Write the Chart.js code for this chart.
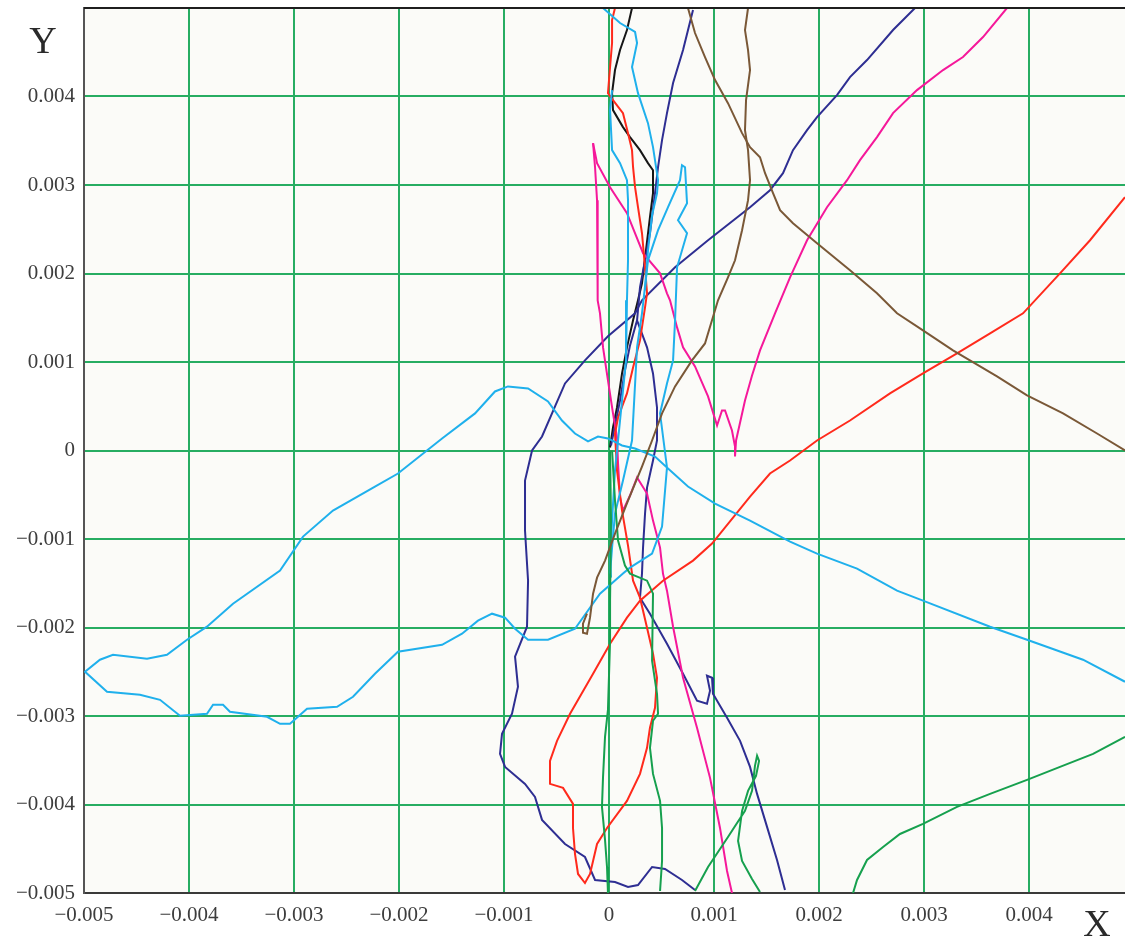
<!DOCTYPE html>
<html>
<head>
<meta charset="utf-8">
<script src="https://cdn.jsdelivr.net/npm/chart.js@4.4.1/dist/chart.umd.min.js"></script>
<style>
  html, body { margin: 0; padding: 0; background: #ffffff; }
  #wrap { position: relative; width: 1125px; height: 939px; }
</style>
</head>
<body>
<div id="wrap"><canvas id="traj"></canvas></div>
<script>
// tick positions (metres)
const xTicks = [-0.005, -0.004, -0.003, -0.002, -0.001, 0, 0.001, 0.002, 0.003, 0.004];
const yTicks = [-0.005, -0.004, -0.003, -0.002, -0.001, 0, 0.001, 0.002, 0.003, 0.004];

// trajectories, [x, y] pairs
const cyanLoop = [
  [0.004914,-0.002613],[0.004514,-0.002364],[0.003981,-0.002138],[0.003629,-0.001991],[0.002990,-0.001697],
  [0.002743,-0.001584],[0.002362,-0.001335],[0.001981,-0.001165],[0.001724,-0.001029],[0.001343,-0.000792],
  [0.001010,-0.000600],[0.000752,-0.000407],[0.000562,-0.000204],[0.000438,-0.000068],[0.000248,0.000023],
  [0.000124,0.000057],[-0.000010,0.000136],[-0.000105,0.000158],[-0.000200,0.000102],[-0.000324,0.000192],
  [-0.000448,0.000339],[-0.000581,0.000554],[-0.000771,0.000701],[-0.000962,0.000724],[-0.001086,0.000667],
  [-0.001276,0.000419],[-0.001590,0.000136],[-0.002010,-0.000260],[-0.002229,-0.000407],[-0.002629,-0.000679],
  [-0.002914,-0.000973],[-0.003133,-0.001357],[-0.003581,-0.001731],[-0.003829,-0.001991],[-0.004019,-0.002138],
  [-0.004210,-0.002308],[-0.004400,-0.002353],[-0.004724,-0.002308],[-0.004848,-0.002364],[-0.004990,-0.002500],
  [-0.004781,-0.002726],[-0.004467,-0.002760],[-0.004276,-0.002817],[-0.004086,-0.002998],[-0.003829,-0.002975],
  [-0.003771,-0.002873],[-0.003676,-0.002873],[-0.003610,-0.002952],[-0.003257,-0.003009],[-0.003133,-0.003088],
  [-0.003038,-0.003088],[-0.002876,-0.002919],[-0.002590,-0.002896],[-0.002438,-0.002783],[-0.002229,-0.002523],
  [-0.002010,-0.002274],[-0.001590,-0.002195],[-0.001400,-0.002070],[-0.001248,-0.001923],[-0.001114,-0.001844],
  [-0.000990,-0.001889],[-0.000895,-0.002014],[-0.000771,-0.002138],[-0.000581,-0.002138],[-0.000324,-0.002014],
  [-0.000086,-0.001618],[0.000133,-0.001391],[0.000200,-0.001324],[0.000410,-0.001165],[0.000505,-0.000860],
  [0.000552,-0.000192],[0.000486,0.000419],[0.000552,0.000758],[0.000610,0.001018],[0.000629,0.001471],
  [0.000648,0.002070],[0.000743,0.002455],[0.000657,0.002602],[0.000743,0.002794],[0.000724,0.003201],
  [0.000695,0.003224],[0.000676,0.003054],[0.000562,0.002749],[0.000467,0.002489],[0.000371,0.002149],
  [0.000314,0.001550],[0.000267,0.001165],[0.000219,0.000113],[0.000133,-0.000339],[0.000057,-0.000713],
  [0.000029,-0.001097],[0.000010,-0.001391]
];
const cyanTop = [
  [-0.000057,0.005000],[0.000105,0.004830],[0.000248,0.004729],[0.000267,0.004604],[0.000219,0.004333],
  [0.000276,0.004038],[0.000371,0.003699],[0.000419,0.003428],[0.000467,0.003054],[0.000457,0.002907],
  [0.000410,0.002658],[0.000371,0.002262],[0.000343,0.001810]
];
const cyanMid = [
  [0.000029,0.004072],[0.000010,0.003846],[0.000029,0.003394],[0.000105,0.003247],[0.000171,0.003054],
  [0.000181,0.002828],[0.000181,0.002149],[0.000171,0.001697],[0.000162,0.001018],[0.000105,0.000339],
  [0.000057,-0.000226],[0.000029,-0.000792],[0.000010,-0.001244],[0.000019,-0.001437]
];
const navyLong = [
  [0.002914,0.005000],[0.002705,0.004751],[0.002457,0.004412],[0.002295,0.004219],[0.002171,0.004016],
  [0.001981,0.003767],[0.001886,0.003620],[0.001752,0.003394],[0.001657,0.003133],[0.001533,0.002941],
  [0.001343,0.002749],[0.000943,0.002376],[0.000629,0.002070],[0.000314,0.001697],[0.000248,0.001550],
  [-0.000010,0.001290],[-0.000229,0.001018],[-0.000419,0.000758],[-0.000514,0.000498],[-0.000638,0.000158],
  [-0.000733,0.000000],[-0.000800,-0.000339],[-0.000800,-0.000905],[-0.000771,-0.001471],[-0.000781,-0.001991],
  [-0.000895,-0.002330],[-0.000867,-0.002670],[-0.000924,-0.002975],[-0.001019,-0.003201],[-0.001038,-0.003428],
  [-0.000990,-0.003575],[-0.000800,-0.003767],[-0.000705,-0.003914],[-0.000638,-0.004174],[-0.000419,-0.004446],
  [-0.000229,-0.004593],[-0.000133,-0.004853],[0.000057,-0.004876],[0.000181,-0.004932],[0.000276,-0.004910],
  [0.000410,-0.004706],[0.000533,-0.004729],[0.000695,-0.004853],[0.000819,-0.004966]
];
const navyRight = [
  [0.000800,0.004977],[0.000705,0.004525],[0.000610,0.004152],[0.000552,0.003812],[0.000505,0.003507],
  [0.000467,0.003201],[0.000438,0.002907],[0.000390,0.002455],[0.000343,0.002149],[0.000295,0.001844],
  [0.000267,0.001471],[0.000362,0.001165],[0.000419,0.000871],[0.000457,0.000486],[0.000457,0.000113],
  [0.000419,-0.000113],[0.000362,-0.000419],[0.000343,-0.000713],[0.000324,-0.001097],[0.000314,-0.001391],
  [0.000295,-0.001663],[0.000390,-0.001844],[0.000552,-0.002183],[0.000705,-0.002523],[0.000838,-0.002828],
  [0.000933,-0.002862],[0.000962,-0.002715],[0.000933,-0.002545],[0.000981,-0.002568],[0.000990,-0.002749],
  [0.001124,-0.003020],[0.001248,-0.003281],[0.001343,-0.003575],[0.001410,-0.003880],[0.001505,-0.004253],
  [0.001600,-0.004627],[0.001676,-0.004966]
];
const navyCore = [
  [0.000267,0.001471],[0.000200,0.001188],[0.000152,0.000905],[0.000105,0.000566],[0.000057,0.000283],
  [0.000019,0.000057]
];
const blackTrace = [
  [0.000219,0.005000],[0.000171,0.004751],[0.000105,0.004525],[0.000057,0.004299],[0.000029,0.004038],
  [0.000038,0.003846],[0.000133,0.003654],[0.000200,0.003541],[0.000295,0.003394],[0.000371,0.003247],
  [0.000419,0.003167],[0.000419,0.002907],[0.000390,0.002636],[0.000352,0.002262],[0.000314,0.001889],
  [0.000276,0.001697],[0.000229,0.001471],[0.000171,0.001165],[0.000124,0.000871],[0.000076,0.000486],
  [0.000038,0.000260],[0.000010,0.000034]
];
const redTrace = [
  [0.000057,0.005000],[0.000029,0.004864],[0.000029,0.004604],[0.000010,0.004333],[-0.000010,0.004038],
  [0.000038,0.003959],[0.000133,0.003812],[0.000181,0.003586],[0.000219,0.003394],[0.000229,0.003201],
  [0.000248,0.002975],[0.000276,0.002749],[0.000314,0.002455],[0.000343,0.002070],[0.000362,0.001776],
  [0.000343,0.001618],[0.000295,0.001244],[0.000229,0.000939],[0.000171,0.000645],[0.000086,0.000373],
  [0.000057,0.000192],[0.000076,-0.000226],[0.000124,-0.000679],[0.000181,-0.001075],[0.000229,-0.001471],
  [0.000295,-0.001663],[0.000362,-0.002002],[0.000419,-0.002296],[0.000457,-0.002568],[0.000438,-0.002907],
  [0.000390,-0.003133],[0.000362,-0.003360],[0.000295,-0.003654],[0.000171,-0.003959],[-0.000019,-0.004265],
  [-0.000114,-0.004446],[-0.000152,-0.004638],[-0.000181,-0.004785],[-0.000229,-0.004887],[-0.000295,-0.004785],
  [-0.000324,-0.004559],[-0.000343,-0.004265],[-0.000343,-0.003993],[-0.000438,-0.003812],[-0.000562,-0.003767],
  [-0.000562,-0.003507],[-0.000495,-0.003281],[-0.000371,-0.002975],[-0.000152,-0.002523],[0.000010,-0.002183],
  [0.000171,-0.001889],[0.000295,-0.001697],[0.000514,-0.001471],[0.000800,-0.001244],[0.000981,-0.001052],
  [0.001343,-0.000520],[0.001533,-0.000260],[0.001724,-0.000113],[0.001981,0.000113],[0.002295,0.000339],
  [0.002676,0.000645],[0.002990,0.000871],[0.003314,0.001097],[0.003629,0.001324],[0.003943,0.001550],
  [0.004295,0.002002],[0.004581,0.002376],[0.004914,0.002862]
];
const magentaRise = [
  [-0.000152,0.003473],[-0.000133,0.003360],[-0.000114,0.003247],[0.000010,0.002975],[0.000171,0.002681],
  [0.000324,0.002229],[0.000486,0.002002],[0.000552,0.001776],[0.000581,0.001697],[0.000648,0.001391],
  [0.000705,0.001165],[0.000819,0.000950],[0.000943,0.000611],[0.001029,0.000283],[0.001076,0.000452],
  [0.001105,0.000452],[0.001171,0.000226],[0.001200,0.000045],[0.001200,-0.000068],[0.001210,0.000113],
  [0.001295,0.000566],[0.001362,0.000848],[0.001438,0.001131],[0.001581,0.001550],[0.001724,0.001957],
  [0.001886,0.002376],[0.002076,0.002749],[0.002267,0.003054],[0.002390,0.003281],[0.002552,0.003541],
  [0.002705,0.003812],[0.002933,0.004072],[0.003181,0.004299],[0.003371,0.004446],[0.003562,0.004672],
  [0.003790,0.005000]
];
const magentaFall = [
  [-0.000152,0.003473],[-0.000133,0.003201],[-0.000114,0.002828],[-0.000105,0.002455],[-0.000114,0.002070],
  [-0.000105,0.001697],[-0.000086,0.001550],[-0.000057,0.001165],[-0.000010,0.000792],[0.000038,0.000419],
  [0.000076,0.000147],[0.000086,-0.000147],[0.000105,-0.000532],[0.000133,-0.000679],[0.000200,-0.000509],
  [0.000267,-0.000305],[0.000362,-0.000486],[0.000419,-0.000792],[0.000486,-0.001097],[0.000514,-0.001391],
  [0.000552,-0.001584],[0.000610,-0.001991],[0.000705,-0.002568],[0.000838,-0.003133],[0.000962,-0.003699],
  [0.001057,-0.004265],[0.001124,-0.004751],[0.001171,-0.005000]
];
const brownRight = [
  [0.000752,0.005000],[0.000819,0.004717],[0.000914,0.004446],[0.001010,0.004186],[0.001133,0.003925],
  [0.001267,0.003586],[0.001343,0.003428],[0.001438,0.003314],[0.001486,0.003133],[0.001562,0.002907],
  [0.001629,0.002715],[0.001752,0.002568],[0.001981,0.002342],[0.002295,0.002036],[0.002552,0.001776],
  [0.002743,0.001550],[0.002990,0.001357],[0.003276,0.001131],[0.003695,0.000837],[0.003981,0.000622],
  [0.004324,0.000419],[0.004648,0.000192],[0.004914,0.000000]
];
const brownLeft = [
  [0.001324,0.005000],[0.001295,0.004751],[0.001324,0.004525],[0.001343,0.004299],[0.001305,0.003959],
  [0.001295,0.003620],[0.001324,0.003394],[0.001343,0.003054],[0.001324,0.002828],[0.001267,0.002489],
  [0.001200,0.002149],[0.001133,0.001957],[0.001038,0.001697],[0.000914,0.001210],[0.000790,0.001018],
  [0.000629,0.000724],[0.000505,0.000419],[0.000410,0.000113],[0.000314,-0.000181],[0.000181,-0.000566],
  [0.000057,-0.000939],[-0.000038,-0.001244],[-0.000114,-0.001437],[-0.000152,-0.001618],[-0.000181,-0.001889],
  [-0.000210,-0.002070],[-0.000248,-0.002059],[-0.000248,-0.001957],[-0.000210,-0.001844]
];
const greenCurve = [
  [0.002324,-0.005000],[0.002362,-0.004853],[0.002457,-0.004627],[0.002610,-0.004480],[0.002771,-0.004333],
  [0.002990,-0.004219],[0.003314,-0.004027],[0.003629,-0.003880],[0.003981,-0.003722],[0.004295,-0.003575],
  [0.004610,-0.003428],[0.004914,-0.003235]
];
const greenAxis = [
  [0.000010,0.000000],[0.000019,-0.000792],[0.000010,-0.001697],[0.000010,-0.002149],[-0.000010,-0.002930],
  [-0.000038,-0.003235],[-0.000057,-0.003688],[-0.000067,-0.004027],[-0.000038,-0.004400],[-0.000019,-0.004706],
  [-0.000010,-0.005000]
];
const greenMid = [
  [0.000029,0.000000],[0.000057,-0.000566],[0.000086,-0.001018],[0.000152,-0.001301],[0.000200,-0.001391],
  [0.000362,-0.001471],[0.000419,-0.001618],[0.000410,-0.002376],[0.000457,-0.002749],[0.000467,-0.002975],
  [0.000419,-0.003054],[0.000390,-0.003360],[0.000419,-0.003654],[0.000486,-0.003959],[0.000505,-0.004265],
  [0.000505,-0.004638],[0.000486,-0.004977]
];
const greenLoop = [
  [0.000819,-0.004977],[0.000943,-0.004706],[0.001133,-0.004367],[0.001295,-0.004072],[0.001362,-0.003846],
  [0.001390,-0.003563],[0.001410,-0.003450],[0.001429,-0.003507],[0.001400,-0.003676],[0.001324,-0.003846],
  [0.001267,-0.004072],[0.001229,-0.004412],[0.001267,-0.004638],[0.001362,-0.004842],[0.001438,-0.004989]
];

const colors = {
  cyan: '#1fb0ec',
  navy: '#2e2e92',
  black: '#161616',
  red: '#ff2a1c',
  magenta: '#f5189a',
  brown: '#7a5837',
  green: '#16a04e'
};

const traces = [
  { data: brownRight, color: colors.brown },
  { data: brownLeft, color: colors.brown },
  { data: greenCurve, color: colors.green },
  { data: greenAxis, color: colors.green },
  { data: greenMid, color: colors.green },
  { data: greenLoop, color: colors.green },
  { data: cyanLoop, color: colors.cyan },
  { data: cyanTop, color: colors.cyan },
  { data: cyanMid, color: colors.cyan },
  { data: redTrace, color: colors.red },
  { data: magentaRise, color: colors.magenta },
  { data: magentaFall, color: colors.magenta },
  { data: navyLong, color: colors.navy },
  { data: navyRight, color: colors.navy },
  { data: navyCore, color: colors.navy },
  { data: blackTrace, color: colors.black }
];

function fmtTick(v) {
  if (Math.abs(v) < 1e-12) return '0';
  return (v < 0 ? '\u2212' : '') + Math.abs(v).toFixed(3);
}

const gridGreen = '#27ad62';
const serif = "'Liberation Serif', 'Times New Roman', serif";

const frame = {
  id: 'frame',
  beforeDraw(chart) {
    const { ctx, chartArea: a } = chart;
    ctx.save();
    ctx.fillStyle = '#ffffff';
    ctx.fillRect(0, 0, chart.width, chart.height);
    ctx.fillStyle = '#fbfbf8';
    ctx.fillRect(a.left, a.top, a.right - a.left, a.bottom - a.top);
    ctx.restore();
  },
  afterDraw(chart) {
    const { ctx, chartArea: a } = chart;
    ctx.save();
    ctx.strokeStyle = '#1e1e1e';
    ctx.lineWidth = 2;
    ctx.beginPath();
    ctx.moveTo(a.left, a.top);
    ctx.lineTo(a.right, a.top);
    ctx.stroke();
    ctx.fillStyle = '#2a2a2a';
    ctx.font = "38px " + serif;
    ctx.textAlign = 'center';
    ctx.textBaseline = 'alphabetic';
    ctx.fillText('Y', 43, 53);
    ctx.fillText('X', 1097, 936);
    ctx.restore();
  }
};

new Chart(document.getElementById('traj'), {
  type: 'scatter',
  data: {
    datasets: traces.map(t => ({
      data: t.data.map(([x, y]) => ({ x, y })),
      borderColor: t.color,
      borderWidth: 2,
      showLine: true,
      pointRadius: 0,
      fill: false,
      tension: 0
    }))
  },
  options: {
    responsive: true,
    maintainAspectRatio: false,
    animation: false,
    layout: { padding: 0 },
    plugins: { legend: { display: false }, tooltip: { enabled: false } },
    scales: {
      x: {
        type: 'linear',
        min: -0.005,
        max: 0.004914,
        afterBuildTicks: s => { s.ticks = xTicks.map(v => ({ value: v })); },
        afterFit: s => { s.height = 46; s.paddingRight = 0; },
        ticks: { callback: v => fmtTick(v), font: { family: serif, size: 21 }, color: '#3d3d3d', padding: 10, maxRotation: 0, autoSkip: false },
        grid: { color: gridGreen, lineWidth: 2, drawTicks: false },
        border: { color: '#3a3a3a', width: 2 }
      },
      y: {
        type: 'linear',
        min: -0.005,
        max: 0.005,
        afterBuildTicks: s => { s.ticks = yTicks.map(v => ({ value: v })); },
        afterFit: s => { s.width = 84; s.paddingTop = 8; s.paddingBottom = 0; },
        ticks: { callback: v => fmtTick(v), font: { family: serif, size: 21 }, color: '#3d3d3d', padding: 9, autoSkip: false },
        grid: { color: gridGreen, lineWidth: 2, drawTicks: false },
        border: { color: '#555555', width: 2 }
      }
    }
  },
  plugins: [frame]
});
</script>
</body>
</html>
